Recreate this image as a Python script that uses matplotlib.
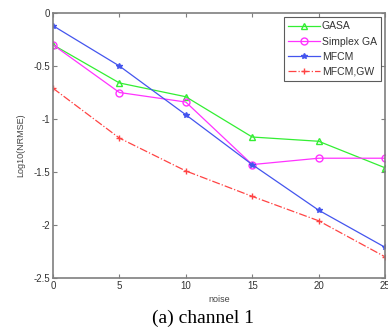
"""
Log10(NRMSE) against noise for four methods, channel 1.
"""

import matplotlib
matplotlib.use("Agg")
import matplotlib.pyplot as plt

noise = [0, 5, 10, 15, 20, 25]

gasa = [-0.30, -0.66, -0.79, -1.17, -1.21, -1.46]
simplex_ga = [-0.30, -0.75, -0.84, -1.43, -1.37, -1.37]
mfcm = [-0.12, -0.50, -0.96, -1.43, -1.86, -2.21]
mfcm_gw = [-0.71, -1.18, -1.49, -1.73, -1.96, -2.30]

AXIS_GREY = "#7f7f7f"

plt.rcParams['font.family'] = ['Liberation Sans', 'DejaVu Sans']

fig = plt.figure(figsize=(3.88, 3.31), dpi=100)
ax = fig.add_axes([53 / 388, 1 - 278 / 331, 332 / 388, 265 / 331])

ax.plot(noise, gasa, color="#33ee33", lw=0.9, marker="^", ms=5, mfc="none", label="GASA")
ax.plot(noise, simplex_ga, color="#ff33ff", lw=0.9, marker="o", ms=5, mfc="none", label="Simplex GA")
ax.plot(noise, mfcm, color="#4455ee", lw=0.9, marker="*", ms=4, label="MFCM")
ax.plot(noise, mfcm_gw, color="#ff4444", lw=0.9, ls="-.", marker="+", ms=5, label="MFCM,GW")

ax.set_xlim(0, 25)
ax.set_ylim(-2.5, 0)
ax.set_xticks(noise)
ax.set_yticks([-2.5, -2, -1.5, -1, -0.5, 0])
ax.set_yticklabels(["-2.5", "-2", "-1.5", "-1", "-0.5", "0"])
ax.tick_params(direction="in", top=True, right=True, length=3, width=0.8,
               labelsize=7, colors=AXIS_GREY, labelcolor="#333333", pad=2)
for spine in ax.spines.values():
    spine.set_color(AXIS_GREY)
    spine.set_linewidth(1.2)

ax.set_xlabel("noise", fontsize=6.5, color="#444444", labelpad=3)
ax.set_ylabel("Log10(NRMSE)", fontsize=6.5, color="#444444", labelpad=6)

leg = ax.legend(loc="upper right", fontsize=7.5, frameon=True, fancybox=False,
                edgecolor="#333333", handlelength=3.0, borderpad=0.4,
                labelspacing=0.5, handletextpad=0.2, borderaxespad=0.4)
leg.get_frame().set_linewidth(0.8)
for text in leg.get_texts():
    text.set_color("#333333")

fig.text(0.5 * (150 + 257) / 388, 1 - 318 / 331, "(a) channel 1",
         family="Liberation Serif", fontsize=14, ha="center", va="center")

fig.savefig("out.png", dpi=100)
